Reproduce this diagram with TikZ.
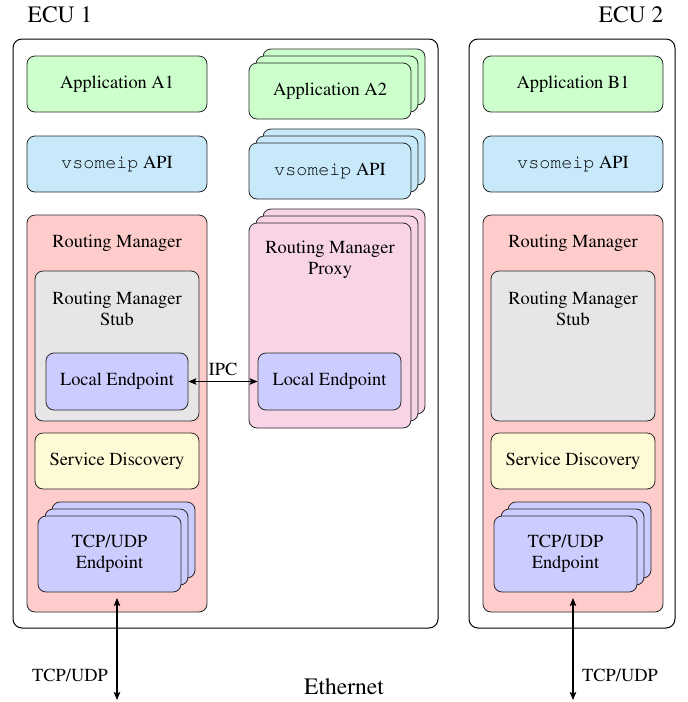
\documentclass[tikz,border=0pt]{standalone}
\usepackage[T1]{fontenc}
\usepackage{times}
\usepackage{courier}
\usetikzlibrary{arrows.meta}
\definecolor{appgreen}{RGB}{204,255,204}
\definecolor{apiblue}{RGB}{199,233,250}
\definecolor{rmred}{RGB}{255,204,204}
\definecolor{stubgray}{RGB}{230,230,230}
\definecolor{lepurple}{RGB}{204,204,255}
\definecolor{sdyellow}{RGB}{255,250,214}
\definecolor{proxypink}{RGB}{249,212,230}
\definecolor{edge}{RGB}{40,40,40}
\newcommand{\normtext}{\fontsize{18.4}{21}\selectfont}
\newcommand{\bigtext}{\fontsize{23.5}{27}\selectfont}
\tikzset{
  box/.style={draw=edge, line width=0.8pt, rounded corners=8pt, inner sep=0pt, font=\normtext, align=center},
  ecubox/.style={draw=black, line width=1pt, rounded corners=9pt, inner sep=0pt},
  lbl/.style={inner sep=0pt, font=\normtext, align=center},
  biglbl/.style={inner sep=0pt, font=\bigtext},
  conn/.style={line width=1.1pt, {Stealth[length=8pt,width=6.5pt,inset=1.5pt]}-{Stealth[length=8pt,width=6.5pt,inset=1.5pt]}},
}
\begin{document}
\begin{tikzpicture}[x=1pt,y=-1pt]
\useasboundingbox (0,0) rectangle (688,702);
% ECU frames
\node[ecubox, minimum width=425, minimum height=589] (ecu1) at (225.5,333.5) {};
\node[ecubox, minimum width=206, minimum height=589] (ecu2) at (572,333.5) {};
\node[biglbl] (ecu1t) at (60,15) {ECU 1};
\node[biglbl] (ecu2t) at (631,15) {ECU 2};

% ---------- ECU 1 left column ----------
\node[box, fill=appgreen, minimum width=180, minimum height=56] (a1) at (117,84) {Application A1};
\node[box, fill=apiblue, minimum width=180, minimum height=56] (api1) at (117,164) {\texttt{vsomeip} API};
\node[box, fill=rmred, minimum width=180, minimum height=397] (rm1) at (117,413.5) {};
\node[lbl] (rm1t) at (117,243) {Routing Manager};
\node[box, fill=stubgray, minimum width=164, minimum height=150] (stub1) at (117,346) {};
\node[lbl] (stub1t) at (117,309) {Routing Manager\\Stub};
\node[box, fill=lepurple, minimum width=142, minimum height=57] (le1) at (117,381.5) {Local Endpoint};
\node[box, fill=sdyellow, minimum width=164, minimum height=56] (sd1) at (117,461) {Service Discovery};
\node[box, fill=lepurple, minimum width=143, minimum height=76] (tcp1c) at (123.5,540) {};
\node[box, fill=lepurple, minimum width=143, minimum height=76] (tcp1b) at (116.5,547) {};
\node[box, fill=lepurple, minimum width=143, minimum height=76] (tcp1) at (109.5,554) {TCP/UDP\\Endpoint};

% ---------- ECU 1 right column ----------
\node[box, fill=appgreen, minimum width=162, minimum height=56] (a2c) at (344,77) {};
\node[box, fill=appgreen, minimum width=162, minimum height=56] (a2b) at (337,84) {};
\node[box, fill=appgreen, minimum width=162, minimum height=56] (a2) at (330,91) {Application A2};
\node[box, fill=apiblue, minimum width=162, minimum height=56] (api2c) at (344,157) {};
\node[box, fill=apiblue, minimum width=162, minimum height=56] (api2b) at (337,164) {};
\node[box, fill=apiblue, minimum width=162, minimum height=56] (api2) at (330,171) {\texttt{vsomeip} API};
\node[box, fill=proxypink, minimum width=162, minimum height=205] (pxc) at (344,311.5) {};
\node[box, fill=proxypink, minimum width=162, minimum height=205] (pxb) at (337,318.5) {};
\node[box, fill=proxypink, minimum width=162, minimum height=205] (px) at (330,325.5) {};
\node[lbl] (pxt) at (330,260) {Routing Manager\\Proxy};
\node[box, fill=lepurple, minimum width=143, minimum height=57] (le2) at (329.5,381.5) {Local Endpoint};

\draw[conn] (le1.east) -- node[lbl, above=5pt] (ipc) {IPC} (le2.west);

% ---------- ECU 2 ----------
\node[box, fill=appgreen, minimum width=180, minimum height=56] (b1) at (573,84) {Application B1};
\node[box, fill=apiblue, minimum width=180, minimum height=56] (api3) at (573,164) {\texttt{vsomeip} API};
\node[box, fill=rmred, minimum width=180, minimum height=397] (rm2) at (573,413.5) {};
\node[lbl] (rm2t) at (573,243) {Routing Manager};
\node[box, fill=stubgray, minimum width=164, minimum height=150] (stub2) at (573,346) {};
\node[lbl] (stub2t) at (573,309) {Routing Manager\\Stub};
\node[box, fill=sdyellow, minimum width=164, minimum height=56] (sd2) at (573,461) {Service Discovery};
\node[box, fill=lepurple, minimum width=143, minimum height=76] (tcp2c) at (579.5,540) {};
\node[box, fill=lepurple, minimum width=143, minimum height=76] (tcp2b) at (572.5,547) {};
\node[box, fill=lepurple, minimum width=143, minimum height=76] (tcp2) at (565.5,554) {TCP/UDP\\Endpoint};

% ---------- Ethernet ----------
\coordinate (eth1) at (117,700);
\coordinate (eth2) at (573,700);
\coordinate (top1) at (117,598);
\coordinate (top2) at (573,598);
\draw[conn] (eth1) -- (top1);
\draw[conn] (eth2) -- (top2);
\node[lbl] (tu1) at (70,675) {TCP/UDP};
\node[lbl] (tu2) at (620,675) {TCP/UDP};
\node[biglbl] (eth) at (344,687) {Ethernet};
\end{tikzpicture}
\end{document}
